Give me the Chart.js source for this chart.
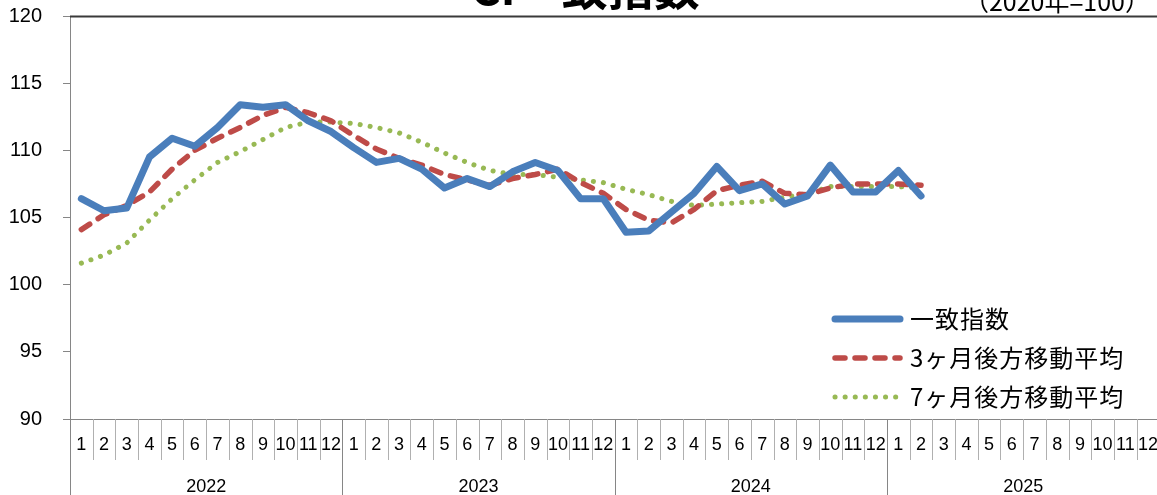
<!DOCTYPE html>
<html>
<head>
<meta charset="utf-8">
<script src="https://cdn.jsdelivr.net/npm/chart.js"></script>
<style>
  html, body { margin: 0; padding: 0; background: #fff; overflow: hidden; }
  #wrap { width: 1157px; height: 495px; position: relative; overflow: hidden; }
  #chart { position: absolute; left: 0; top: -17px; }
</style>
</head>
<body>
<div id="wrap"><canvas id="chart" width="1173" height="512"></canvas></div>
<script>
// 年・月（2022年1月～2025年12月）
var years = ['2022', '2023', '2024', '2025'];
var months = ['1','2','3','4','5','6','7','8','9','10','11','12'];

// 一致指数（2020年=100）
var coincident = [
  106.4, 105.5, 105.7, 109.5, 110.9, 110.3, 111.7, 113.4, 113.2, 113.4, 112.2, 111.4,
  110.2, 109.1, 109.4, 108.6, 107.2, 107.9, 107.3, 108.4, 109.1, 108.5, 106.4, 106.4,
  103.9, 104.0, 105.4, 106.8, 108.8, 107.0, 107.5, 106.0, 106.6, 108.9, 106.9, 106.9,
  108.5, 106.6
];
// 3ヶ月後方移動平均
var ma3 = [
  104.1, 105.2, 105.9, 106.9, 108.6, 110.0, 110.9, 111.7, 112.6, 113.2, 112.8, 112.2,
  111.1, 110.1, 109.4, 108.9, 108.2, 107.8, 107.4, 107.9, 108.2, 108.6, 107.6, 106.8,
  105.6, 104.8, 104.6, 105.6, 107.0, 107.4, 107.7, 106.8, 106.7, 107.2, 107.5, 107.5,
  107.5, 107.4
];
// 7ヶ月後方移動平均
var ma7 = [
  101.6, 102.2, 103.1, 104.8, 106.4, 107.8, 109.1, 109.9, 110.8, 111.7, 112.1, 112.1,
  112.0, 111.7, 111.3, 110.6, 109.8, 109.1, 108.5, 108.2, 108.2, 108.0, 107.8, 107.6,
  107.1, 106.7, 106.2, 105.9, 106.0, 106.1, 106.2, 106.5, 106.8, 107.3, 107.3, 107.3,
  107.3, 107.2
];

var yMin = 90, yMax = 120, yStep = 5;
var title = 'CI一致指数';
var unitNote = '（2020年=100）';

var labels = [];
years.forEach(function(y){
  months.forEach(function(m){ labels.push(y + '-' + m); });
});

var axisGray = '#868686';
var numFont = "'Liberation Sans', Arial, sans-serif";
var jpFont = "'Noto Sans CJK JP', sans-serif";

// タイトル・年ラベル・区切り線・凡例を描く
var extras = {
  id: 'extras',
  afterDraw: function(chart){
    var ctx = chart.ctx;
    var a = chart.chartArea;
    var xs = chart.scales.x;
    var w = xs.width / labels.length;
    var dy = a.top - 16; // 画面上の位置に合わせるずれ
    ctx.save();

    // 上端の線
    ctx.strokeStyle = '#3a3a3a';
    ctx.lineWidth = 2;
    ctx.beginPath();
    ctx.moveTo(a.left, a.top + 0.5);
    ctx.lineTo(chart.width, a.top + 0.5);
    ctx.stroke();

    // 月の区切り線
    ctx.lineWidth = 1;
    for (var i = 0; i <= labels.length; i++) {
      var px = Math.round(xs.left + i * w) + 0.5;
      var bottom = (i % 12 === 0) ? chart.height : a.bottom + 41;
      ctx.strokeStyle = (i % 12 === 0) ? axisGray : '#b0b0b0';
      ctx.beginPath();
      ctx.moveTo(px, a.bottom);
      ctx.lineTo(px, bottom);
      ctx.stroke();
    }

    // 年ラベル
    ctx.fillStyle = '#000';
    ctx.font = '18px ' + numFont;
    ctx.textAlign = 'center';
    ctx.textBaseline = 'middle';
    years.forEach(function(y, k){
      var cx = xs.left + (k * 12 + 6) * w;
      ctx.fillText(y, cx, 487 + dy);
    });

    // タイトル（上が切れている）
    ctx.font = 'bold 46px ' + jpFont;
    ctx.textAlign = 'center';
    ctx.textBaseline = 'alphabetic';
    ctx.fillText(title, 585, 5 + dy);

    ctx.font = '25px ' + jpFont;
    ctx.textAlign = 'right';
    ctx.fillText(unitNote, 1150, 11 + dy);

    // 凡例
    var rows = [319, 358, 397];
    chart.data.datasets.forEach(function(ds, k){
      var y = rows[k] + dy;
      ctx.strokeStyle = ds.borderColor;
      ctx.lineWidth = ds.borderWidth;
      ctx.lineCap = ds.borderCapStyle || 'butt';
      ctx.setLineDash(ds.borderDash || []);
      ctx.beginPath();
      ctx.moveTo(835, y);
      ctx.lineTo(900, y);
      ctx.stroke();
      ctx.setLineDash([]);
      ctx.fillStyle = '#000';
      ctx.font = '24px ' + jpFont;
      ctx.letterSpacing = '1px';
      ctx.textAlign = 'left';
      ctx.textBaseline = 'middle';
      ctx.fillText(ds.label, 910, y);
      ctx.letterSpacing = '0px';
    });
    ctx.restore();
  }
};

new Chart(document.getElementById('chart'), {
  type: 'line',
  data: {
    labels: labels,
    datasets: [{
      label: '一致指数',
      data: coincident,
      borderColor: '#4A7EBB',
      borderWidth: 7,
      borderCapStyle: 'round',
      borderJoinStyle: 'round',
      pointRadius: 0,
      fill: false
    }, {
      label: '3ヶ月後方移動平均',
      data: ma3,
      borderColor: '#BE4B48',
      borderWidth: 5.5,
      borderDash: [10, 10],
      borderCapStyle: 'round',
      borderJoinStyle: 'round',
      pointRadius: 0,
      fill: false
    }, {
      label: '7ヶ月後方移動平均',
      data: ma7,
      borderColor: '#98B954',
      borderWidth: 5,
      borderDash: [0.1, 10],
      borderCapStyle: 'round',
      borderJoinStyle: 'round',
      pointRadius: 0,
      fill: false
    }]
  },
  options: {
    responsive: false,
    animation: false,
    layout: { padding: { top: 0, left: 0, right: 0, bottom: 0 } },
    plugins: {
      legend: { display: false },
      tooltip: { enabled: false }
    },
    scales: {
      x: {
        offset: true,
        grid: { display: false, drawTicks: false },
        border: { display: true, color: axisGray, width: 1 },
        ticks: {
          autoSkip: false,
          maxRotation: 0,
          padding: 15,
          color: '#000',
          font: { family: numFont, size: 18 },
          callback: function(v, i){ return months[i % 12]; }
        },
        afterFit: function(s){ s.height = 76; }
      },
      y: {
        min: yMin,
        max: yMax,
        grid: { drawOnChartArea: false, tickLength: 7, color: axisGray },
        border: { display: true, color: axisGray, width: 1 },
        ticks: {
          stepSize: yStep,
          padding: 21,
          color: '#000',
          font: { family: numFont, size: 20 }
        },
        afterFit: function(s){ s.width = 70; }
      }
    }
  },
  plugins: [extras]
});
</script>
</body>
</html>
